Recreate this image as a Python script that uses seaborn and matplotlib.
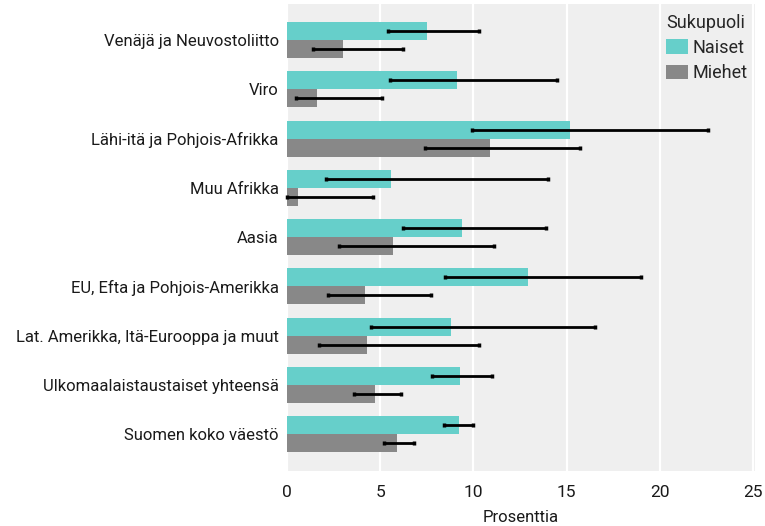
import matplotlib
matplotlib.use("Agg")
import matplotlib.pyplot as plt
import seaborn as sns
import pandas as pd
import numpy as np

categories = [
    "Venäjä ja Neuvostoliitto",
    "Viro",
    "Lähi-itä ja Pohjois-Afrikka",
    "Muu Afrikka",
    "Aasia",
    "EU, Efta ja Pohjois-Amerikka",
    "Lat. Amerikka, Itä-Eurooppa ja muut",
    "Ulkomaalaistaustaiset yhteensä",
    "Suomen koko väestö",
]
naiset = [7.5, 9.1, 15.2, 5.6, 9.4, 12.9, 8.8, 9.3, 9.2]
naiset_lo = [5.4, 5.5, 9.9, 2.1, 6.2, 8.5, 4.5, 7.8, 8.4]
naiset_hi = [10.3, 14.5, 22.6, 14.0, 13.9, 19.0, 16.5, 11.0, 10.0]
miehet = [3.0, 1.6, 10.9, 0.6, 5.7, 4.2, 4.3, 4.7, 5.9]
miehet_lo = [1.4, 0.5, 7.4, 0.0, 2.8, 2.2, 1.7, 3.6, 5.2]
miehet_hi = [6.2, 5.1, 15.7, 4.6, 11.1, 7.7, 10.3, 6.1, 6.8]
groups = ["Naiset", "Miehet"]
colors = ["#66CFCA", "#888888"]

df = pd.DataFrame({
    "maa": categories * 2,
    "Sukupuoli": [groups[0]] * len(categories) + [groups[1]] * len(categories),
    "arvo": naiset + miehet,
    "lo": naiset_lo + miehet_lo,
    "hi": naiset_hi + miehet_hi,
})

sns.set_style("white")
plt.rcParams["font.family"] = ["Roboto", "DejaVu Sans"]

fig = plt.figure(figsize=(7.65, 5.26), dpi=100)
ax = fig.add_axes([287 / 765, 1 - 471 / 526, (755 - 287) / 765, (471 - 4) / 526])
ax.set_facecolor("#EFEFEF")

sns.barplot(data=df, y="maa", x="arvo", hue="Sukupuoli", order=categories,
            hue_order=groups, palette=colors, width=0.73, errorbar=None,
            saturation=1, linewidth=0, ax=ax, zorder=2)

# error bars at bar centers
patches = [p for p in ax.patches if p.get_height() > 0]
for g_i, g in enumerate(groups):
    sub = df[df["Sukupuoli"] == g].reset_index(drop=True)
    bars = patches[g_i * len(categories):(g_i + 1) * len(categories)]
    for bar, (_, row) in zip(bars, sub.iterrows()):
        yc = bar.get_y() + bar.get_height() / 2
        ax.errorbar(x=row["arvo"], y=yc,
                    xerr=[[row["arvo"] - row["lo"]], [row["hi"] - row["arvo"]]],
                    fmt="none", ecolor="black", elinewidth=2, capsize=1.5,
                    capthick=2.5, zorder=4, clip_on=False)

ax.set_xlim(0, 25.1)
ax.set_ylim(len(categories) - 1 + 0.745, -0.73)
ax.set_xticks([0, 5, 10, 15, 20, 25])
ax.xaxis.grid(True, color="white", linewidth=1.6, zorder=0)
ax.set_axisbelow(True)
for s in ax.spines.values():
    s.set_visible(False)
ax.tick_params(axis="y", length=0, labelsize=12, colors="#1a1a1a", pad=6)
ax.tick_params(axis="x", length=0, labelsize=12.5, colors="#1a1a1a", pad=10)
ax.set_ylabel("")
ax.set_xlabel("Prosenttia", fontsize=12, color="#1a1a1a", labelpad=7)

leg = ax.legend(title="Sukupuoli", loc="upper right", frameon=False,
                fontsize=13, title_fontsize=13, handlelength=1.2,
                handleheight=0.85, handletextpad=0.25, labelspacing=0.4,
                borderaxespad=0.0, borderpad=0.4,
                bbox_to_anchor=(1.0, 0.995))
leg._legend_box.align = "left"

fig.savefig("out.png", dpi=100)
